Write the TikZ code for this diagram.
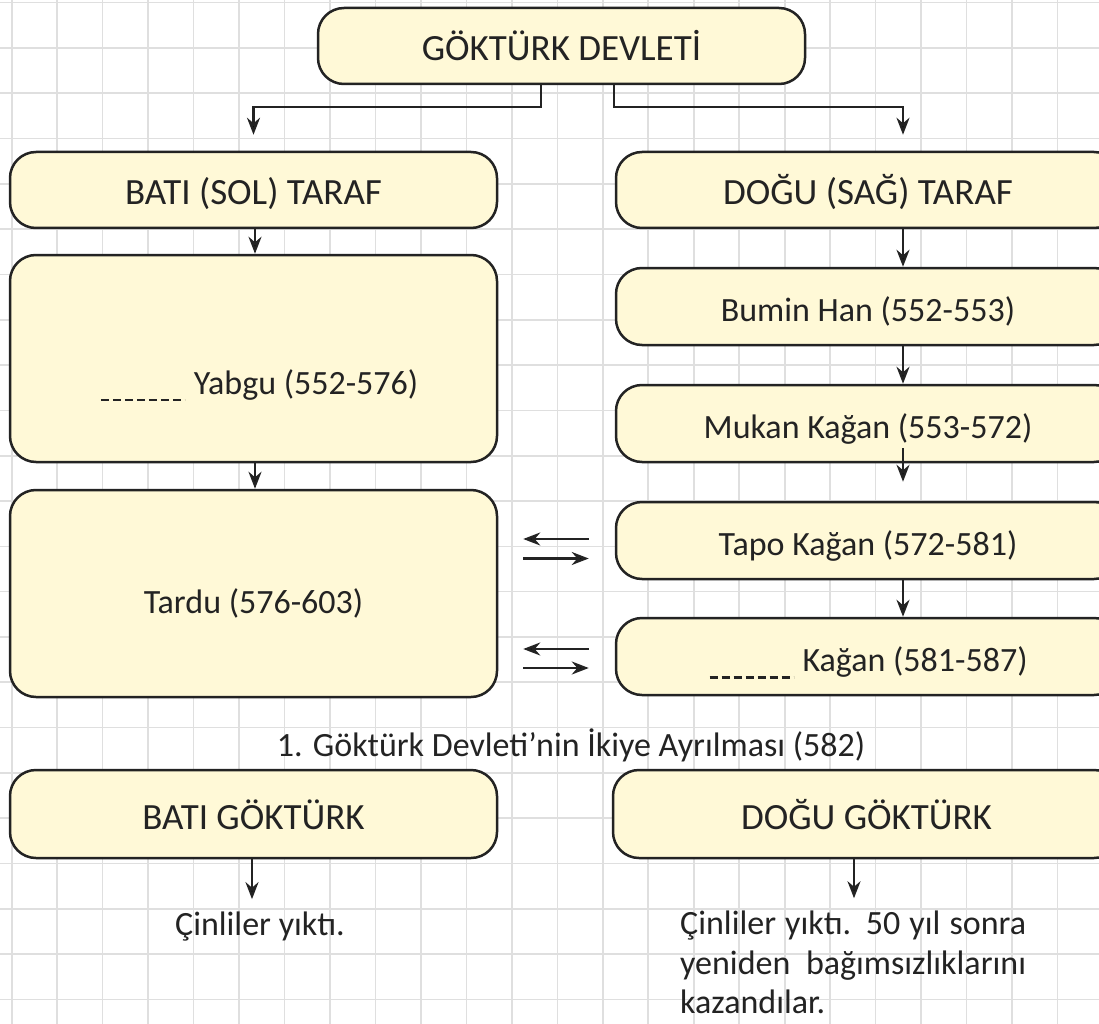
\documentclass[tikz,border=0pt]{standalone}
\usepackage{fontspec}
\setmainfont{Carlito}
\usetikzlibrary{arrows.meta}
\definecolor{sari}{RGB}{255,249,215}
\definecolor{cizgi}{RGB}{35,35,35}
\definecolor{izgara}{RGB}{223,223,223}
\newcommand{\bosluk}{\tikz[baseline=6pt]\draw[line width=2.4pt, draw=cizgi, dash pattern=on 8pt off 4pt] (0pt,0pt) -- (84pt,0pt);}

\begin{document}
\begin{tikzpicture}[x=1pt, y=-1pt,
	kutu/.style={draw=cizgi, fill=sari, line width=2.5pt, rounded corners=26pt, inner sep=0pt, text=cizgi, minimum height=76pt, text height=30pt, text depth=0pt},
	solkutu/.style={kutu, minimum width=487pt},
	sagkutu/.style={kutu, minimum width=504pt},
	buyuk/.style={font=\fontsize{37}{40}\selectfont},
	ok/.style={draw=cizgi, line width=2.4pt, -{Stealth[length=17pt, width=13pt]}},
	yazi/.style={inner sep=0pt, text=cizgi},
	every node/.style={font=\fontsize{34}{39.5}\selectfont}]
		\clip (0,0) rectangle (1099,1024);
		% kareli zemin
		\fill[white] (0,0) rectangle (1099,1024);
		\foreach \i in {0,...,24}
			\draw[izgara, line width=1.6pt] (11.7+45.47*\i, 0) -- ++(0,1024);
		\foreach \j in {0,...,22}
			\draw[izgara, line width=1.6pt] (0, 2.7+45.3*\j) -- ++(1099,0);

		% ust kutu
		\node[kutu, buyuk, minimum width=487pt] (devlet) at (561.5,46) {GÖKTÜRK DEVLETİ};

		% bati tarafi
		\node[solkutu, buyuk] (bati) at (253.5,190) {BATI (SOL) TARAF};
		\node[solkutu, minimum height=207pt] (yabgu) at (253.5,358.5) {};
		\node[yazi, anchor=base] (yabguyazi) at (259,394) {\bosluk\ Yabgu (552-576)};
		\node[solkutu, minimum height=207pt, text height=40pt] (tardu) at (253.5,593.5) {Tardu (576-603)};

		% dogu tarafi
		\node[sagkutu, buyuk] (dogu) at (868,190) {DOĞU (SAĞ) TARAF};
		\node[sagkutu, minimum height=77pt] (bumin) at (868,306.5) {Bumin Han (552-553)};
		\node[sagkutu, minimum height=77pt] (mukan) at (868,423.5) {Mukan Kağan (553-572)};
		\node[sagkutu, minimum height=77pt] (tapo) at (868,540.5) {Tapo Kağan (572-581)};
		\node[sagkutu, minimum height=77pt] (kagan) at (868,656.5) {\bosluk\ Kağan (581-587)};

		\draw[ok, shorten >=16pt] ([xshift=-20.5pt]devlet.south) -- ++(0,22) -| (bati.north);
		\draw[ok, shorten >=16pt] ([xshift=52.5pt]devlet.south) -- ++(0,22) -| ([xshift=35pt]dogu.north);

		\draw[ok] ([xshift=1.5pt]bati.south) -- ([xshift=1.5pt]yabgu.north);
		\draw[ok] ([xshift=1.5pt]yabgu.south) -- ([xshift=1.5pt]tardu.north);

		\draw[ok] ([xshift=35pt]dogu.south) -- ([xshift=35pt]bumin.north);
		\draw[ok] ([xshift=35pt]bumin.south) -- ([xshift=35pt]mukan.north);
		\draw[ok] ([xshift=35pt, yshift=15pt]mukan.south) -- ([xshift=35pt, yshift=19pt]tapo.north);
		\draw[ok] ([xshift=35pt]tapo.south) -- ([xshift=35pt]kagan.north);

		% karsilikli oklar
		\draw[ok, shorten <=26pt, shorten >=25pt] ([yshift=1.5pt]tapo.west) -- ([yshift=1.5pt]tapo.west -| tardu.east);
		\draw[ok, shorten <=25pt, shorten >=26pt] ([yshift=-18pt]tapo.west -| tardu.east) -- ([yshift=-18pt]tapo.west);
		\draw[ok, shorten <=26pt, shorten >=25pt] ([yshift=7.5pt]kagan.west) -- ([yshift=7.5pt]kagan.west -| tardu.east);
		\draw[ok, shorten <=25pt, shorten >=26pt] ([yshift=-11.5pt]kagan.west -| tardu.east) -- ([yshift=-11.5pt]kagan.west);

		% baslik
		\node[yazi] (baslik) at (571,745) {1. Göktürk Devleti’nin İkiye Ayrılması (582)};

		% bolunme sonrasi
		\node[solkutu, buyuk, minimum height=88pt] (batigok) at (253.5,814) {BATI GÖKTÜRK};
		\node[kutu, buyuk, minimum width=507pt, minimum height=88pt] (dogugok) at (866.5,814) {DOĞU GÖKTÜRK};

		\node[yazi] (batison) at (260,927) {Çinliler yıktı.};
		\node[yazi, anchor=north west, align=left] (doguson) at (680,911)
			{\makebox[346pt][s]{Çinliler yıktı. 50 yıl sonra}\\ \makebox[346pt][s]{yeniden bağımsızlıklarını}\\ kazandılar.};

		\draw[ok, shorten >=13pt] ([xshift=-1.5pt]batigok.south) -- ([xshift=-1.5pt]batigok.south |- batison.north);
		\draw[ok] ([xshift=-12.5pt]dogugok.south) -- ++(0,39);
	\end{tikzpicture}
\end{document}
